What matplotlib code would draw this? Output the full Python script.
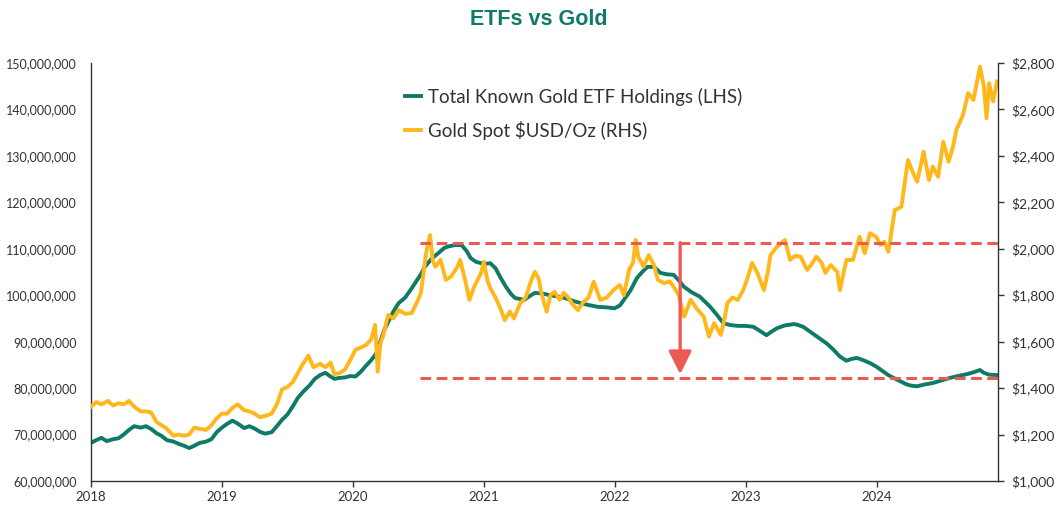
import matplotlib
matplotlib.use("Agg")
import matplotlib.pyplot as plt
from matplotlib.ticker import FuncFormatter, FixedLocator

# ---------------- data ----------------
etf_years = [2018.00, 2018.04, 2018.08, 2018.12, 2018.17, 2018.21, 2018.25, 2018.29, 2018.33, 2018.38,
             2018.42, 2018.46, 2018.50, 2018.54, 2018.58, 2018.63, 2018.67, 2018.71, 2018.75, 2018.79,
             2018.83, 2018.88, 2018.92, 2018.96, 2019.00, 2019.04, 2019.08, 2019.12, 2019.17, 2019.21,
             2019.25, 2019.29, 2019.33, 2019.38, 2019.42, 2019.46, 2019.50, 2019.54, 2019.58, 2019.62,
             2019.67, 2019.71, 2019.75, 2019.79, 2019.83, 2019.86, 2019.90, 2019.94, 2019.98, 2020.02,
             2020.06, 2020.10, 2020.14, 2020.18, 2020.21, 2020.24, 2020.28, 2020.31, 2020.35, 2020.40,
             2020.44, 2020.48, 2020.52, 2020.55, 2020.60, 2020.65, 2020.70, 2020.73, 2020.78, 2020.83,
             2020.87, 2020.90, 2020.94, 2020.98, 2021.02, 2021.05, 2021.09, 2021.13, 2021.17, 2021.21,
             2021.24, 2021.31, 2021.35, 2021.39, 2021.44, 2021.49, 2021.55, 2021.62, 2021.68, 2021.74,
             2021.80, 2021.87, 2021.93, 2022.00, 2022.04, 2022.07, 2022.12, 2022.17, 2022.21, 2022.25,
             2022.30, 2022.35, 2022.40, 2022.45, 2022.49, 2022.53, 2022.59, 2022.65, 2022.69, 2022.73,
             2022.78, 2022.83, 2022.88, 2022.94, 2023.00, 2023.06, 2023.11, 2023.16, 2023.20, 2023.24,
             2023.30, 2023.37, 2023.40, 2023.44, 2023.50, 2023.57, 2023.62, 2023.67, 2023.72, 2023.77,
             2023.81, 2023.85, 2023.90, 2023.95, 2024.00, 2024.05, 2024.09, 2024.13, 2024.18, 2024.23,
             2024.27, 2024.31, 2024.37, 2024.43, 2024.49, 2024.56, 2024.62, 2024.69, 2024.74, 2024.79,
             2024.82, 2024.86, 2024.92]
etf_holdings_m = [68.2, 68.8, 69.3, 68.6, 69.0, 69.2, 70.0, 71.0, 71.8, 71.5,
                  71.8, 71.2, 70.3, 69.7, 68.8, 68.5, 68.0, 67.6, 67.1, 67.6,
                  68.2, 68.5, 69.0, 70.5, 71.5, 72.3, 73.0, 72.4, 71.4, 71.8,
                  71.3, 70.6, 70.2, 70.5, 71.8, 73.2, 74.3, 76.0, 77.9, 79.2,
                  80.6, 82.0, 82.8, 83.3, 82.5, 82.0, 82.2, 82.3, 82.6, 82.5,
                  83.5, 84.8, 86.0, 87.5, 90.0, 92.5, 94.8, 96.5, 98.3, 99.5,
                  101.1, 102.8, 104.5, 106.1, 107.8, 109.0, 110.2, 110.5, 110.8, 110.8,
                  109.5, 108.0, 107.2, 106.9, 106.8, 106.9, 105.8, 103.7, 101.8, 100.2,
                  99.4, 99.0, 99.8, 100.5, 100.4, 100.1, 99.8, 99.4, 98.8, 98.3,
                  97.9, 97.5, 97.4, 97.2, 97.8, 99.0, 101.0, 103.7, 105.0, 106.1,
                  106.1, 104.8, 104.5, 104.4, 103.2, 101.8, 100.6, 99.7, 98.6, 97.5,
                  95.8, 94.0, 93.6, 93.4, 93.4, 93.2, 92.3, 91.4, 92.2, 92.9,
                  93.5, 93.8, 93.6, 93.2, 92.0, 90.6, 89.6, 88.3, 86.8, 85.9,
                  86.3, 86.5, 86.0, 85.4, 84.6, 83.6, 82.8, 82.2, 81.5, 80.8,
                  80.5, 80.4, 80.8, 81.1, 81.6, 82.2, 82.6, 83.0, 83.4, 83.9,
                  83.3, 82.9, 82.8]

gold_years = [2018.00, 2018.04, 2018.08, 2018.13, 2018.17, 2018.21, 2018.25, 2018.29, 2018.33, 2018.38,
              2018.42, 2018.46, 2018.50, 2018.54, 2018.58, 2018.63, 2018.67, 2018.71, 2018.75, 2018.79,
              2018.83, 2018.88, 2018.92, 2018.96, 2019.00, 2019.04, 2019.08, 2019.12, 2019.17, 2019.21,
              2019.25, 2019.29, 2019.33, 2019.38, 2019.42, 2019.46, 2019.50, 2019.54, 2019.58, 2019.62,
              2019.66, 2019.70, 2019.75, 2019.79, 2019.83, 2019.86, 2019.90, 2019.94, 2019.98, 2020.02,
              2020.06, 2020.10, 2020.14, 2020.17, 2020.19, 2020.21, 2020.23, 2020.27, 2020.31, 2020.35,
              2020.40, 2020.45, 2020.49, 2020.52, 2020.56, 2020.59, 2020.61, 2020.63, 2020.67, 2020.71,
              2020.75, 2020.80, 2020.82, 2020.86, 2020.89, 2020.93, 2020.98, 2021.00, 2021.03, 2021.05,
              2021.09, 2021.13, 2021.16, 2021.20, 2021.23, 2021.28, 2021.32, 2021.36, 2021.39, 2021.42,
              2021.44, 2021.48, 2021.51, 2021.54, 2021.58, 2021.61, 2021.64, 2021.68, 2021.72, 2021.76,
              2021.80, 2021.84, 2021.87, 2021.89, 2021.94, 2021.99, 2022.04, 2022.07, 2022.11, 2022.14,
              2022.16, 2022.18, 2022.22, 2022.26, 2022.30, 2022.33, 2022.38, 2022.42, 2022.45, 2022.49,
              2022.53, 2022.58, 2022.63, 2022.68, 2022.72, 2022.76, 2022.81, 2022.84, 2022.86, 2022.90,
              2022.94, 2022.98, 2023.01, 2023.05, 2023.09, 2023.14, 2023.17, 2023.19, 2023.24, 2023.30,
              2023.34, 2023.38, 2023.42, 2023.47, 2023.50, 2023.54, 2023.58, 2023.61, 2023.65, 2023.70,
              2023.72, 2023.77, 2023.82, 2023.87, 2023.91, 2023.95, 2024.00, 2024.03, 2024.06, 2024.09,
              2024.14, 2024.19, 2024.24, 2024.28, 2024.31, 2024.36, 2024.40, 2024.43, 2024.47, 2024.51,
              2024.55, 2024.58, 2024.61, 2024.66, 2024.70, 2024.74, 2024.79, 2024.82, 2024.84, 2024.86,
              2024.89, 2024.92]
gold_usd = [1320, 1340, 1330, 1345, 1325, 1335, 1330, 1345, 1320, 1300,
            1300, 1295, 1255, 1240, 1225, 1195, 1200, 1195, 1200, 1230,
            1225, 1220, 1240, 1270, 1290, 1290, 1315, 1330, 1305, 1300,
            1290, 1275, 1280, 1290, 1330, 1395, 1405, 1425, 1465, 1505,
            1540, 1490, 1505, 1490, 1510, 1460, 1465, 1480, 1520, 1565,
            1575, 1585, 1610, 1672, 1471, 1590, 1622, 1715, 1700, 1736,
            1720, 1723, 1770, 1810, 1982, 2059, 1950, 1923, 1952, 1866,
            1880, 1923, 1952, 1860, 1780, 1840, 1896, 1944, 1860, 1831,
            1790, 1740, 1693, 1730, 1700, 1766, 1790, 1860, 1901, 1870,
            1810, 1729, 1800, 1815, 1780, 1810, 1794, 1760, 1736, 1770,
            1790, 1858, 1810, 1780, 1790, 1822, 1844, 1800, 1909, 1940,
            2038, 1966, 1923, 1973, 1930, 1866, 1852, 1860, 1837, 1800,
            1708, 1780, 1740, 1708, 1622, 1680, 1629, 1700, 1766, 1790,
            1780, 1820, 1866, 1939, 1896, 1822, 1900, 1973, 2009, 2038,
            1952, 1970, 1966, 1909, 1930, 1966, 1940, 1896, 1930, 1901,
            1822, 1952, 1952, 2052, 1981, 2067, 2050, 2016, 2030, 1987,
            2167, 2181, 2382, 2325, 2289, 2418, 2296, 2354, 2310, 2461,
            2375, 2430, 2512, 2576, 2670, 2641, 2784, 2698, 2562, 2713,
            2634, 2720]

year_ticks = [2018, 2019, 2020, 2021, 2022, 2023, 2024]
left_ticks = [60e6, 70e6, 80e6, 90e6, 100e6, 110e6, 120e6, 130e6, 140e6, 150e6]
right_ticks = [1000, 1200, 1400, 1600, 1800, 2000, 2200, 2400, 2600, 2800]

band_top = 111.3e6
band_bottom = 82.1e6
band_start = 2020.51
arrow_x = 2022.50
arrow_tip = 83.0e6

etf_label = "Total Known Gold ETF Holdings (LHS)"
gold_label = "Gold Spot $USD/Oz (RHS)"
title = "ETFs vs Gold"

# ---------------- style ----------------
GREEN = "#0f7b67"
GOLD = "#ffb81c"
RED = "#ec5a55"
AX_COL = "#333333"
TXT = "#333333"
FONT = ["Lato", "DejaVu Sans"]

fig = plt.figure(figsize=(10.6, 5.12), dpi=100)
ax = fig.add_axes([0.0858, 0.0605, 0.856, 0.8165])
x_end = 2024.93

ax.plot(etf_years, [v * 1e6 for v in etf_holdings_m], color=GREEN, lw=2.8,
        solid_joinstyle="round", label=etf_label, zorder=2)
ax.set_xlim(2018, x_end)
ax.set_ylim(60e6, 150e6)
ax.yaxis.set_major_locator(FixedLocator(left_ticks))
ax.yaxis.set_major_formatter(FuncFormatter(lambda v, p: f"{int(round(v)):,}"))
ax.xaxis.set_major_locator(FixedLocator(year_ticks))
ax.xaxis.set_major_formatter(FuncFormatter(lambda v, p: f"{int(round(v))}"))

ax2 = ax.twinx()
ax2.plot(gold_years, gold_usd, color=GOLD, lw=2.8, solid_joinstyle="round", label=gold_label)
ax2.set_ylim(1000, 2800)
ax2.yaxis.set_major_locator(FixedLocator(right_ticks))
ax2.yaxis.set_major_formatter(FuncFormatter(lambda v, p: f"${int(round(v)):,}"))

ax3 = ax.twinx()
ax3.set_ylim(ax.get_ylim())
ax3.set_xlim(2018, x_end)
ax3.axis("off")
ax3.hlines([band_top, band_bottom], band_start, x_end, colors=RED, lw=2.2,
           linestyles=(0, (3.5, 1.8)))
ax3.annotate("", xy=(arrow_x, arrow_tip), xytext=(arrow_x, band_top),
             arrowprops=dict(arrowstyle="-|>,head_width=0.5,head_length=1.0",
                             color=RED, lw=2.4, mutation_scale=14, shrinkA=0, shrinkB=0))

for a in (ax, ax2):
    a.spines["top"].set_visible(False)
    for s in a.spines.values():
        s.set_color(AX_COL)
        s.set_linewidth(1.0)
ax.spines["right"].set_visible(False)
ax2.spines["left"].set_visible(False)
ax2.spines["bottom"].set_visible(False)

ax.tick_params(axis="y", length=0, pad=10, labelsize=9, labelcolor=TXT)
ax.tick_params(axis="x", length=4, width=1, color=AX_COL, pad=3, labelsize=9.5, labelcolor=TXT)
ax2.tick_params(axis="y", length=4, width=1, color=AX_COL, pad=5, labelsize=10, labelcolor=TXT)
for lab in ax.get_yticklabels() + ax.get_xticklabels() + ax2.get_yticklabels():
    lab.set_family(FONT)

h1, l1 = ax.get_legend_handles_labels()
h2, l2 = ax2.get_legend_handles_labels()
leg = fig.legend(h1 + h2, l1 + l2, loc="upper left", bbox_to_anchor=(0.366, 0.862),
                 frameon=False, handlelength=0.85, handletextpad=0.4, labelspacing=0.8,
                 prop=dict(family=FONT, size=13.5))
for t in leg.get_texts():
    t.set_color(TXT)
for line in leg.get_lines():
    line.set_linewidth(2.8)

fig.text(0.508, 0.962, title, ha="center", va="center", color=GREEN, fontsize=15.5,
         fontweight="bold", family=["Liberation Sans Narrow", "Liberation Sans", "DejaVu Sans"])

fig.savefig("out.png", dpi=100, facecolor="white")
